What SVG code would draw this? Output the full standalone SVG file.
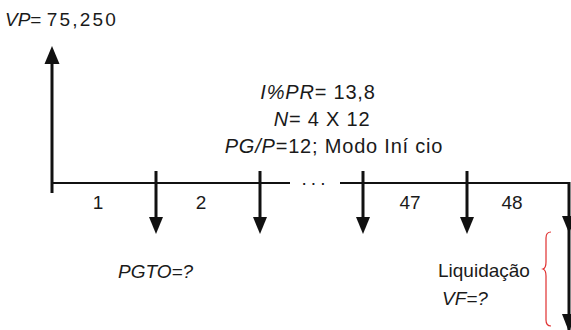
<svg xmlns="http://www.w3.org/2000/svg" width="571" height="330" viewBox="0 0 571 330">
<defs>
<style>
text{font-family:"Liberation Sans","DejaVu Sans",sans-serif;fill:#1a1a1a;font-size:19px}
.i{font-style:italic}
.p{font-size:20px;letter-spacing:0.8px}
.ln{stroke:#111;stroke-width:2.2;fill:none}
.ar{stroke:#111;stroke-width:3;fill:none}
.hd{fill:#111}
</style>
</defs>
<rect width="571" height="330" fill="#fff"/>
<g id="connectors">
<line class="ar" x1="52" y1="193" x2="52" y2="60"/>
<polygon class="hd" points="52,46 44.5,64 59.5,64"/>
<line class="ln" x1="52" y1="183" x2="290" y2="183"/>
<line class="ln" x1="340" y1="183" x2="569" y2="183"/>
<line class="ar" x1="569" y1="182" x2="569" y2="330"/>
<polygon class="hd" points="569,233 562,216 576,216"/>
<polygon class="hd" points="569,332 562,314 576,314"/>
<line class="ar" x1="156" y1="171" x2="156" y2="220"/>
<polygon class="hd" points="156,234 149,217 163,217"/>
<line class="ar" x1="260" y1="171" x2="260" y2="220"/>
<polygon class="hd" points="260,234 253,217 267,217"/>
<line class="ar" x1="363" y1="171" x2="363" y2="220"/>
<polygon class="hd" points="363,234 356,217 370,217"/>
<line class="ar" x1="467" y1="171" x2="467" y2="220"/>
<polygon class="hd" points="467,234 460,217 474,217"/>
<path d="M551,232 Q546,232 546,238 L546,262 Q546,268 543,269 Q546,270 546,276 L546,320 Q546,326 551,326" stroke="#e03030" stroke-width="1.2" fill="none"/>
</g>
<g id="vp"><text x="5" y="26" font-size="20"><tspan class="i">VP</tspan>= <tspan letter-spacing="2.2">75,250</tspan></text></g>
<g id="params">
<text class="p" x="318" y="99" text-anchor="middle"><tspan class="i">I%PR</tspan>= 13,8</text>
<text class="p" x="322" y="126" text-anchor="middle"><tspan class="i">N</tspan>= 4 X 12</text>
<text class="p" x="334" y="153" text-anchor="middle"><tspan class="i">PG/P</tspan>=12; Modo Iní cio</text>
</g>
<g id="dots"><text x="315" y="189" text-anchor="middle" letter-spacing="3">···</text></g>
<g id="periods">
<text x="98" y="209" text-anchor="middle">1</text>
<text x="201" y="209" text-anchor="middle">2</text>
<text x="410" y="209" text-anchor="middle">47</text>
<text x="512" y="209" text-anchor="middle">48</text>
</g>
<g id="pgto"><text class="i" x="118" y="278">PGTO=?</text></g>
<g id="liq">
<text x="438" y="277">Liquidação</text>
<text class="i" x="442" y="305">VF=?</text>
</g>
</svg>
